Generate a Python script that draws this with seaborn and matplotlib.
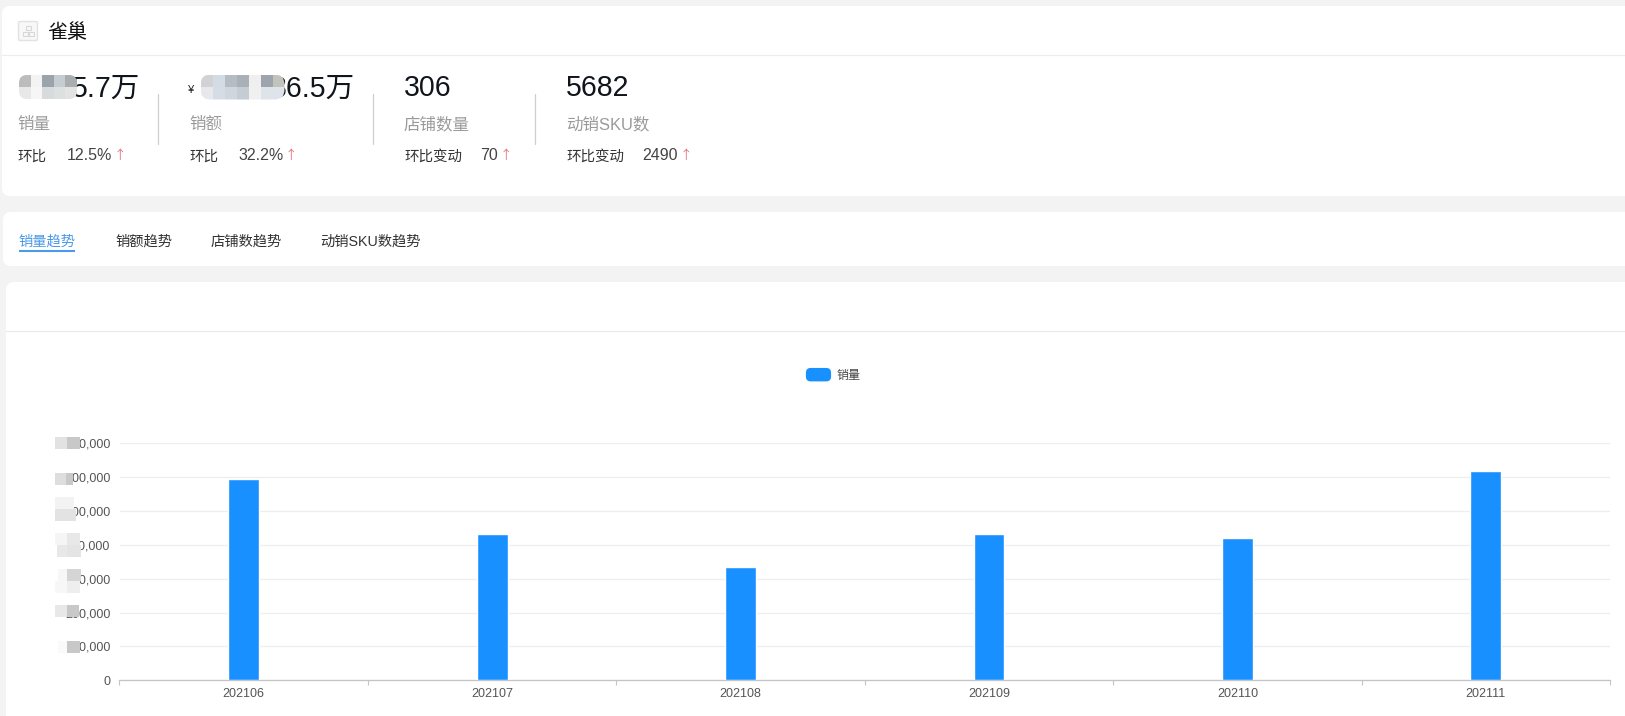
import matplotlib
matplotlib.use("Agg")
import matplotlib.pyplot as plt
import pandas as pd
import seaborn as sns
from matplotlib.legend_handler import HandlerPatch
from matplotlib.patches import FancyBboxPatch, Patch, Rectangle
from matplotlib.ticker import FuncFormatter, FixedLocator, NullFormatter

# ---- data ----
months = ["202106", "202107", "202108", "202109", "202110", "202111"]
sales = [595000, 432000, 335000, 433000, 419000, 618000]
y_ticks = [0, 100000, 200000, 300000, 400000, 500000, 600000, 700000]
series_name = "销量"
brand = "雀巢"
kpi_values = ["5.7万", "36.5万", "306", "5682"]
kpi_names = ["销量", "销额", "店铺数量", "动销SKU数"]
kpi_delta_names = ["环比", "环比", "环比变动", "环比变动"]
kpi_deltas = ["12.5%", "32.2%", "70", "2490"]
tabs = ["销量趋势", "销额趋势", "店铺数趋势", "动销SKU数趋势"]

W, H, DPI = 1625, 716, 100
BLUE = "#1890ff"
def pt(px):
    return px * 72 / DPI

sns.set_theme(style="white")
plt.rcParams["font.family"] = ["Liberation Sans", "Noto Sans CJK SC", "DejaVu Sans"]

fig = plt.figure(figsize=(W / DPI, H / DPI), dpi=DPI, facecolor="#f3f3f3")

# page layer in pixel coordinates
bg = fig.add_axes([0, 0, 1, 1], zorder=0)
bg.set_xlim(0, W); bg.set_ylim(H, 0); bg.axis("off")

def card(x0, y0, x1, y1):
    bg.add_patch(FancyBboxPatch((x0 + 8, y0 + 8), x1 - x0 - 16, y1 - y0 - 16,
                                boxstyle="round,pad=8,rounding_size=8",
                                fc="white", ec="none", mutation_aspect=1))

card(2, 6, W + 30, 196)
card(3, 212, W + 30, 266)
card(6, 282, W + 30, H + 30)
bg.plot([2, W], [55, 55], color="#ececec", lw=0.8)
bg.plot([6, W], [330.8, 330.8], color="#e8e8e8", lw=0.8)

# brand header
bg.add_patch(FancyBboxPatch((19, 22), 18, 18, boxstyle="round,pad=0.5,rounding_size=1.5",
                            fc="#f8f8f8", ec="#e2e2e2", lw=1))
for rx, ry in [(26, 26), (23, 32), (29, 32)]:
    bg.add_patch(Rectangle((rx, ry), 4.5, 4, fc="none", ec="#d8d8d8", lw=0.8))
bg.text(47, 33, brand, fontsize=pt(20), color="#111111", va="center", ha="left")

# KPI blocks
val_x = [140.5, 355, 404, 566]
val_ha = ["right", "right", "left", "left"]
name_x = [17.5, 189, 404, 566]
delta_x = [67, 238, 480, 642]
arrow_x = [119.5, 291, 506, 686]
for i in range(4):
    bg.text(val_x[i], 88.5, kpi_values[i], fontsize=pt(28.5), color="#10151c",
            ha=val_ha[i], va="center")
    bg.text(name_x[i], 124.5, kpi_names[i], fontsize=pt(16.5), color="#9a9a9a", va="center")
    bg.text(name_x[i], 156.5, kpi_delta_names[i], fontsize=pt(14.5), color="#333333", va="center")
    bg.text(delta_x[i], 156, kpi_deltas[i], fontsize=pt(16), color="#444444", va="center")
    bg.text(arrow_x[i], 156, "↑", fontsize=pt(12.5), color="#e5737d", ha="center", va="center",
            family=["Noto Sans CJK SC", "DejaVu Sans"])
bg.text(191.5, 90, "¥", fontsize=pt(11), color="#222222", ha="center", va="center")
for dx in [158, 373, 535]:
    bg.plot([dx, dx], [94, 144], color="#cfcfcf", lw=0.9)

# tabs
tab_x = [18.5, 115, 210.5, 320.5]
for i, t in enumerate(tabs):
    bg.text(tab_x[i], 241.5, t, fontsize=pt(14.3), va="center",
            color="#4a9ae8" if i == 0 else "#333333")
bg.plot([19, 75], [251, 251], color="#4a9ae8", lw=1.5, solid_capstyle="butt")

# chart
L, R, T, B = 119.5, 1610, 443.3, 680.3
ax = fig.add_axes([L / W, 1 - B / H, (R - L) / W, (B - T) / H], zorder=1)
ax.patch.set_alpha(0)
df = pd.DataFrame({"月份": months, series_name: sales})
sns.barplot(data=df, x="月份", y=series_name, color=BLUE, saturation=1, width=0.124,
            ax=ax, zorder=3)
ax.set_xlim(-0.5, 5.5)
ax.set_ylim(0, y_ticks[-1])
ax.set_xlabel(""); ax.set_ylabel("")
ax.set_yticks(y_ticks)
ax.yaxis.set_major_formatter(FuncFormatter(lambda v, _: f"{int(v):,}"))
ax.xaxis.set_minor_locator(FixedLocator([k - 0.5 for k in range(len(months) + 1)]))
ax.xaxis.set_minor_formatter(NullFormatter())
ax.grid(axis="y", color="#eeeeee", lw=0.9, zorder=0)
ax.grid(axis="x", visible=False, which="both")
ax.set_axisbelow(True)
for s in ["top", "right", "left"]:
    ax.spines[s].set_visible(False)
ax.spines["bottom"].set_color("#c4c4c4")
ax.spines["bottom"].set_linewidth(0.9)
ax.tick_params(axis="y", length=0, pad=pt(9), labelsize=pt(12.5), labelcolor="#555555")
ax.tick_params(axis="x", which="major", length=0, pad=pt(8), labelsize=pt(12.5), labelcolor="#555555")
ax.tick_params(axis="x", which="minor", length=pt(5), width=0.8, color="#c4c4c4", bottom=True)

class RoundHandler(HandlerPatch):
    def create_artists(self, legend, orig, xd, yd, w, h, fs, trans):
        p = FancyBboxPatch((-xd + 2, -yd + 2), w - 4, h - 4,
                           boxstyle="round,pad=2,rounding_size=3.5", fc=BLUE, ec="none",
                           transform=trans)
        return [p]

handle = Patch(color=BLUE, label=series_name)
leg = fig.legend(handles=[handle], handler_map={Patch: RoundHandler()}, frameon=False,
                 loc="center", bbox_to_anchor=(833 / W, 1 - 374.8 / H),
                 fontsize=pt(12), handlelength=2.1, handleheight=1.35, handletextpad=0.42,
                 labelcolor="#444444", borderpad=0, borderaxespad=0)

# pixelated masking, as in the reference
top = fig.add_axes([0, 0, 1, 1], zorder=2)
top.set_xlim(0, W); top.set_ylim(H, 0); top.axis("off"); top.patch.set_alpha(0)

def mosaic(x0, y0, w, h, rows, r):
    clip = FancyBboxPatch((x0 + r, y0 + r), w - 2 * r, h - 2 * r,
                          boxstyle=f"round,pad={r},rounding_size={r}", fc="none", ec="none")
    top.add_patch(clip)
    cw, ch = w / len(rows[0]), h / len(rows)
    for j, row in enumerate(rows):
        for i, c in enumerate(row):
            re = Rectangle((x0 + i * cw, y0 + j * ch), cw + 0.3, ch + 0.3, fc=c, ec="none")
            top.add_patch(re)
            re.set_clip_path(clip)

mosaic(19, 75, 58, 24, [["#bcbcbc", "#f3f3f3", "#9aa4aa", "#c5cdd0", "#a8adb0"],
                        ["#e8e8e8", "#f6f6f6", "#d7dbdc", "#dde0e0", "#e3e3e3"]], 8)
mosaic(200.5, 74.5, 84, 25, [["#d2d2d2", "#d3dbe5", "#b6bcc4", "#a9b0b8", "#efefef", "#9ea4ae", "#c0c4bc"],
                             ["#e6e8ec", "#d5dce5", "#d0d6de", "#c5ccd4", "#f0f0f0", "#dfe3ea", "#dfe3ea"]], 10)

blocks = [
    (55, 437, 12, 12, "#e2e2e2"), (67, 437, 13, 12, "#c8c8c8"),
    (55, 473, 11, 12, "#dedede"), (66, 473, 7, 12, "#c9c9c9"),
    (55, 497, 19, 12, "#f3f3f3"), (55, 509, 21, 12, "#e3e3e3"),
    (55, 533, 12, 12, "#f5f5f5"), (67, 533, 13, 12, "#e8e8e8"),
    (57, 545, 10, 12, "#e8e8e8"), (67, 545, 14, 12, "#e4e4e4"),
    (58, 569, 9, 12, "#f7f7f7"), (67, 569, 14, 12, "#d5d5d5"),
    (55, 581, 12, 12, "#f7f7f7"), (67, 581, 13, 12, "#eeeeee"),
    (55, 605, 12, 12, "#e8e8e8"), (67, 605, 12, 12, "#c8c8c8"),
    (58, 641, 9, 12, "#fafafa"), (67, 641, 13, 12, "#c8c8c8"),
]
for bx, by, bw, bh, bc in blocks:
    top.add_patch(Rectangle((bx, by), bw, bh, fc=bc, ec="none"))

fig.savefig("out.png", dpi=DPI, facecolor=fig.get_facecolor())
